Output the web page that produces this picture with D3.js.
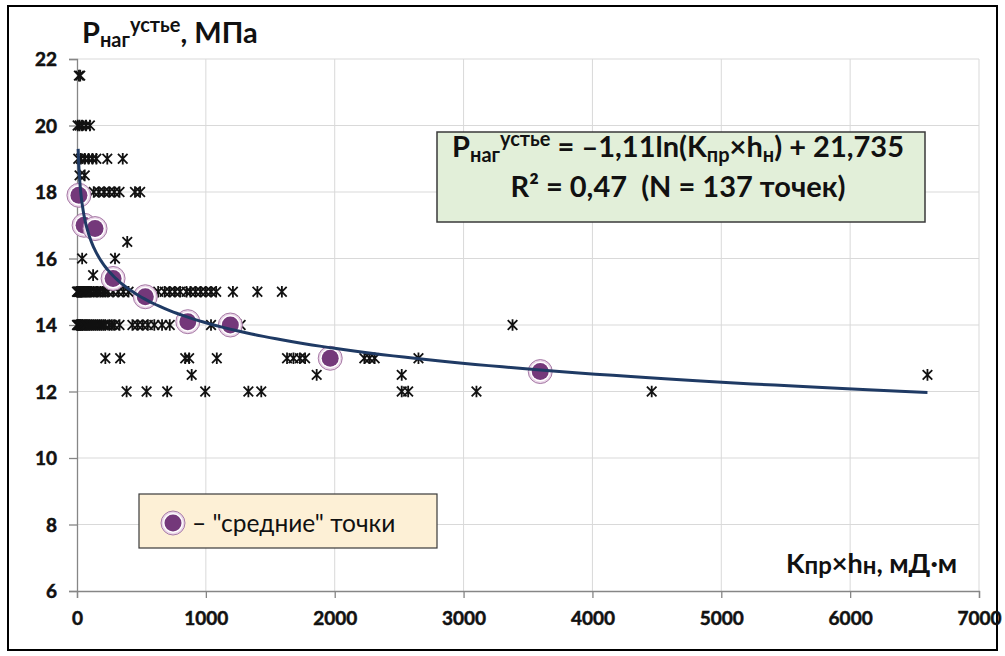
<!DOCTYPE html>
<html>
<head>
<meta charset="utf-8">
<script src="https://cdn.jsdelivr.net/npm/d3@7"></script>
<style>
  html, body { margin: 0; padding: 0; background: #fff; }
  svg { display: block; font-family: Lato, "Noto Sans", "Open Sans", sans-serif; }
</style>
</head>
<body>
<svg id="chart" width="1005" height="656"></svg>
<script>
// Axis ranges and tick labels
const xTicks = [0, 1000, 2000, 3000, 4000, 5000, 6000, 7000];
const yTicks = [6, 8, 10, 12, 14, 16, 18, 20, 22];

// Logarithmic fit: P = a*ln(K*h) + b
const fitA = -1.11;
const fitB = 21.735;
const fitFrom = 9;
const fitTo = 6600;

// Measured wells: wellhead injection pressure levels and the K*h values at each level
const levelP = [21.5, 20, 19, 18.5, 18, 17, 16.5, 16, 15.5, 15, 14, 13, 12.5, 12];
const levelK = [
  [15, 25],
  [5, 20, 40, 70, 100],
  [10, 30, 60, 90, 120, 150, 235, 355],
  [20, 60],
  [10, 130, 170, 210, 250, 290, 330, 450, 490],
  [40, 140],
  [390],
  [40, 295],
  [125],
  [0, 5, 10, 15, 20, 25, 30, 35, 40, 50, 60, 70, 80, 90, 100, 110, 130, 150, 160, 180, 200, 220, 240, 280, 320, 360, 400,
   630, 680, 720, 760, 800, 850, 880, 920, 960, 1000, 1040, 1080, 1210, 1400, 1590],
  [0, 5, 10, 15, 20, 25, 30, 40, 45, 60, 70, 80, 90, 100, 115, 130, 145, 160, 175, 190, 205, 220, 250, 270, 290, 330,
   430, 470, 510, 550, 600, 660, 720, 1040, 1270, 3380],
  [220, 335, 840, 870, 1085, 1630, 1680, 1730, 1770, 2230, 2270, 2310, 2650],
  [890, 1860, 2520, 6600],
  [385, 540, 700, 995, 1330, 1430, 2520, 2570, 3100, 4460]
];

// Group ("mean") points
const meanK = [15, 55, 140, 280, 530, 860, 1190, 1965, 3595];
const meanP = [17.9, 17.0, 16.9, 15.4, 14.85, 14.1, 14.0, 13.0, 12.6];

const svg = d3.select("#chart");
const plot = { left: 77, top: 59, right: 979, bottom: 591 };

const x = d3.scaleLinear().domain([0, 7000]).range([plot.left, plot.right]);
const y = d3.scaleLinear().domain([6, 22]).range([plot.bottom, plot.top]);

// Outer frame
svg.append("rect")
  .attr("x", 8).attr("y", 6).attr("width", 989).attr("height", 644)
  .attr("fill", "#fff").attr("stroke", "#000").attr("stroke-width", 2);

// Grid
const grid = svg.append("g").attr("stroke", "#d9d9d9").attr("stroke-width", 1);
grid.selectAll(".gx").data(xTicks.slice(1)).join("line")
  .attr("x1", d => x(d)).attr("x2", d => x(d))
  .attr("y1", plot.top).attr("y2", plot.bottom);
grid.selectAll(".gy").data(yTicks.slice(1)).join("line")
  .attr("x1", plot.left).attr("x2", plot.right)
  .attr("y1", d => y(d)).attr("y2", d => y(d));

// Axes
const xAxis = svg.append("g")
  .attr("transform", `translate(0,${plot.bottom})`)
  .call(d3.axisBottom(x).tickValues(xTicks).tickFormat(d3.format("d")).tickSizeOuter(0).tickSize(7).tickPadding(10));
const yAxis = svg.append("g")
  .attr("transform", `translate(${plot.left},0)`)
  .call(d3.axisLeft(y).tickValues(yTicks).tickSizeOuter(0).tickSize(8).tickPadding(12));
[xAxis, yAxis].forEach(ax => {
  ax.select(".domain").attr("stroke", "#868686").attr("stroke-width", 1.3);
  ax.selectAll(".tick line").attr("stroke", "#868686").attr("stroke-width", 1.3);
  ax.selectAll(".tick text")
    .attr("fill", "#111").attr("font-size", 19).attr("font-weight", "bold")
    .attr("stroke", "#111").attr("stroke-width", 0.5)
    .attr("font-family", "Lato, 'Noto Sans', sans-serif");
});
xAxis.selectAll(".tick text").attr("dy", "0.9em");
yAxis.selectAll(".tick text").attr("dy", "0.35em");

// Star markers for individual wells
const stars = [];
levelP.forEach((p, i) => levelK[i].forEach(k => stars.push([k, p])));
const starPath = "M-4.8,-4.8L4.8,4.8M-4.8,4.8L4.8,-4.8M0,-5.8L0,5.8";
svg.append("g").selectAll("path").data(stars).join("path")
  .attr("transform", d => `translate(${x(d[0])},${y(d[1])})`)
  .attr("d", starPath)
  .attr("fill", "none").attr("stroke", "#111").attr("stroke-width", 1.8);

// Mean-point marker
function meanMarker(g) {
  g.append("circle").attr("r", 12).attr("fill", "#ead6e8").attr("stroke", "#a77aa6").attr("stroke-width", 1);
  g.append("circle").attr("r", 10).attr("fill", "#fff");
  g.append("circle").attr("r", 8.5).attr("fill", "#74387a");
}
svg.append("g").selectAll("g").data(meanK.map((k, i) => [k, meanP[i]])).join("g")
  .attr("transform", d => `translate(${x(d[0])},${y(d[1])})`)
  .each(function () { meanMarker(d3.select(this)); });

// Trend line
const fitPts = d3.range(0, 201).map(i => {
  const k = fitFrom * Math.pow(fitTo / fitFrom, i / 200);
  return [k, fitA * Math.log(k) + fitB];
});
svg.append("path")
  .datum(fitPts)
  .attr("d", d3.line().x(d => x(d[0])).y(d => y(d[1])))
  .attr("fill", "none").attr("stroke", "#1f3a64").attr("stroke-width", 3);

// Y-axis title
const yt = svg.append("text").attr("x", 82).attr("y", 43)
  .attr("font-size", 29).attr("font-weight", "bold").attr("fill", "#111");
yt.append("tspan").text("P");
yt.append("tspan").attr("font-size", 20).attr("dy", 4).text("наг");
yt.append("tspan").attr("font-size", 20).attr("dy", -15).text("устье");
yt.append("tspan").attr("dy", 11).text(", МПа");

// X-axis title
const xt = svg.append("text").attr("x", 786).attr("y", 573)
  .attr("font-size", 27).attr("font-weight", "bold").attr("fill", "#111");
xt.append("tspan").text("K");
xt.append("tspan").attr("font-size", 24).attr("dy", 1).text("пр");
xt.append("tspan").attr("dy", -1).text("×h");
xt.append("tspan").attr("font-size", 24).attr("dy", 1).text("н");
xt.append("tspan").attr("dy", -1).text(", мД·м");

// Equation box
svg.append("rect")
  .attr("x", 437).attr("y", 132).attr("width", 488).attr("height", 90)
  .attr("fill", "#e2efd9").attr("stroke", "#3a3a3a").attr("stroke-width", 1.5);
const eq1 = svg.append("text").attr("x", 678).attr("y", 157).attr("text-anchor", "middle")
  .attr("font-size", 29).attr("font-weight", "bold").attr("fill", "#111");
eq1.append("tspan").text("P");
eq1.append("tspan").attr("font-size", 20).attr("dy", 5).text("наг");
eq1.append("tspan").attr("font-size", 20).attr("dy", -16).text("устье");
eq1.append("tspan").attr("dy", 11).text(" = \u20131,11ln(K");
eq1.append("tspan").attr("font-size", 20).attr("dy", 5).text("пр");
eq1.append("tspan").attr("dy", -5).text("×h");
eq1.append("tspan").attr("font-size", 20).attr("dy", 5).text("н");
eq1.append("tspan").attr("dy", -5).text(") + 21,735");
svg.append("text").attr("x", 678).attr("y", 197).attr("text-anchor", "middle")
  .attr("font-size", 29).attr("font-weight", "bold").attr("fill", "#111")
  .attr("xml:space", "preserve").style("white-space", "pre")
  .text("R² = 0,47  (N = 137 точек)");

// Legend
svg.append("rect")
  .attr("x", 139).attr("y", 494).attr("width", 298).attr("height", 54)
  .attr("fill", "#fdf0d6").attr("stroke", "#3a3a3a").attr("stroke-width", 1.2);
meanMarker(svg.append("g").attr("transform", "translate(173,523)"));
svg.append("text").attr("x", 192).attr("y", 532)
  .attr("font-size", 24.5).attr("fill", "#111")
  .text("\u2013 \"средние\" точки");
</script>
</body>
</html>
